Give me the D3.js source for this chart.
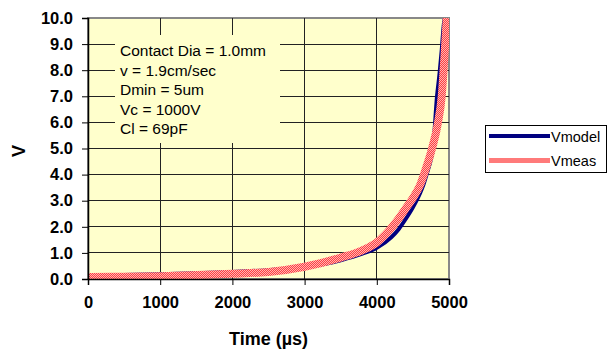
<!DOCTYPE html>
<html>
<head>
<meta charset="utf-8">
<script src="https://cdn.jsdelivr.net/npm/d3@7"></script>
<style>
  body{margin:0;background:#fff;}
  text{font-family:"Liberation Sans",Arial,sans-serif;}
</style>
</head>
<body>
<div id="chart"></div>
<script>
//V against time, model vs measured
var timeTicks = [0,1000,2000,3000,4000,5000];
var voltTicks = [0,1,2,3,4,5,6,7,8,9,10];

var modelT = [0,500,1000,1500,2000,2500,3000,3500,3800,4000,4200,4300,4400,4500,4600,4650,4700,4750,4779,4834,4870,4900,4930,4942];
var modelV = [0.12,0.15,0.18,0.22,0.27,0.34,0.46,0.72,0.97,1.2,1.6,1.9,2.3,2.75,3.3,3.65,4.1,4.6,5.0,7.0,7.9,8.8,9.8,10.0];

var measT = [0,500,1000,1500,2000,2500,3000,3500,3800,4000,4200,4300,4400,4500,4600,4700,4765,4848,4899,4947,4968];
var measV = [0.08,0.09,0.11,0.15,0.2,0.27,0.47,0.82,1.1,1.4,1.95,2.3,2.7,3.1,3.6,4.4,5.0,6.0,7.0,9.0,10.0];

var noteLines = ["Contact Dia = 1.0mm","v = 1.9cm/sec","Dmin = 5um","Vc = 1000V","Cl = 69pF"];
var seriesNames = ["Vmodel","Vmeas"];

var W = 608, H = 349;
var m = {left:88, right:159, top:18, bottom:70};

var svg = d3.select("#chart").append("svg").attr("width",W).attr("height",H);

//checkered red stroke for the measured series
var pat = svg.append("defs").append("pattern")
	.attr("id","redpat").attr("patternUnits","userSpaceOnUse")
	.attr("width",2).attr("height",2);
pat.append("rect").attr("width",2).attr("height",2).attr("fill","#ff4040");
pat.append("rect").attr("width",1).attr("height",1).attr("fill","#ffb4b4");
pat.append("rect").attr("x",1).attr("y",1).attr("width",1).attr("height",1).attr("fill","#ffb4b4");

var x = d3.scaleLinear().domain([0,5000]).range([m.left, W-m.right]);
var y = d3.scaleLinear().domain([0,10]).range([H-m.bottom, m.top]);

svg.append("defs").append("clipPath").attr("id","plotclip")
	.append("rect").attr("x",x(0)).attr("y",y(10))
	.attr("width",x(5000)-x(0)).attr("height",y(0)-y(10));

//plot area
svg.append("rect")
	.attr("x",x(0)).attr("y",y(10))
	.attr("width",x(5000)-x(0)).attr("height",y(0)-y(10))
	.attr("fill","#ffffcc").attr("stroke","#888").attr("stroke-width",2);

//gridlines
svg.append("g").selectAll("line").data(voltTicks.slice(1,10)).enter().append("line")
	.attr("x1",x(0)).attr("x2",x(5000))
	.attr("y1",function(d){return y(d)}).attr("y2",function(d){return y(d)})
	.attr("stroke","#222").attr("stroke-width",1).attr("shape-rendering","crispEdges");
svg.append("g").selectAll("line").data(timeTicks.slice(1,5)).enter().append("line")
	.attr("y1",y(0)).attr("y2",y(10))
	.attr("x1",function(d){return x(d)}).attr("x2",function(d){return x(d)})
	.attr("stroke","#222").attr("stroke-width",1).attr("shape-rendering","crispEdges");

//text box covers the gridlines
svg.append("rect").attr("x",115).attr("y",35).attr("width",165).attr("height",108).attr("fill","#ffffcc");
svg.append("g").selectAll("text").data(noteLines).enter().append("text")
	.attr("x",120).attr("y",function(d,i){return 56+i*19.6})
	.attr("font-size","15.5px").attr("fill","#000")
	.text(function(d){return d});

//series
var line = d3.line().curve(d3.curveMonotoneX)
	.x(function(d){return x(d[0])}).y(function(d){return y(d[1])});
var modelPts = modelT.map(function(t,i){return [t,modelV[i]]});
var measPts = measT.map(function(t,i){return [t,measV[i]]});

var g = svg.append("g").attr("clip-path","url(#plotclip)");
g.append("path").datum(modelPts).attr("d",line)
	.attr("fill","none").attr("stroke","#000080").attr("stroke-width",4);
g.append("path").datum(measPts).attr("d",line)
	.attr("fill","none").attr("stroke","url(#redpat)").attr("stroke-width",8);

//axes
var yAxis = d3.axisLeft(y).tickValues(voltTicks).tickFormat(d3.format(".1f")).tickSizeOuter(0).tickSize(6).tickPadding(9);
var xAxis = d3.axisBottom(x).tickValues(timeTicks).tickFormat(d3.format("d")).tickSizeOuter(0).tickSize(6).tickPadding(11);

var ya = svg.append("g").attr("transform","translate("+x(0)+",0)").call(yAxis);
var xa = svg.append("g").attr("transform","translate(0,"+y(0)+")").call(xAxis);
[ya,xa].forEach(function(a){
	a.select(".domain").attr("stroke","#000").attr("stroke-width",1.5);
	a.selectAll(".tick line").attr("stroke","#000");
	a.selectAll("text").attr("font-family","Liberation Sans, Arial, sans-serif")
		.attr("font-size","16.5px").attr("font-weight","bold").attr("fill","#000");
});

svg.append("text").attr("x",(x(0)+x(5000))/2).attr("y",345)
	.attr("text-anchor","middle").attr("font-size","18px").attr("font-weight","bold")
	.text("Time (\u00b5s)");
svg.append("text").attr("transform","translate(25,151) rotate(-90)")
	.attr("text-anchor","middle").attr("font-size","18px").attr("font-weight","bold")
	.text("V");

//legend
var lg = svg.append("g");
lg.append("rect").attr("x",485.5).attr("y",125.5).attr("width",121).attr("height",47)
	.attr("fill","#fff").attr("stroke","#000").attr("stroke-width",1);
var items = lg.selectAll("g.item").data(seriesNames).enter().append("g").classed("item",true)
	.attr("transform",function(d,i){return "translate(0,"+(136+i*24.5)+")"});
items.append("line").attr("x1",489).attr("x2",550).attr("y1",0).attr("y2",0)
	.attr("stroke",function(d,i){return i==0 ? "#000080" : "url(#redpat)"})
	.attr("stroke-width",function(d,i){return i==0 ? 4 : 5});
items.append("text").attr("x",551).attr("y",5.5).attr("font-size","14.5px").text(function(d){return d});
</script>
</body>
</html>
